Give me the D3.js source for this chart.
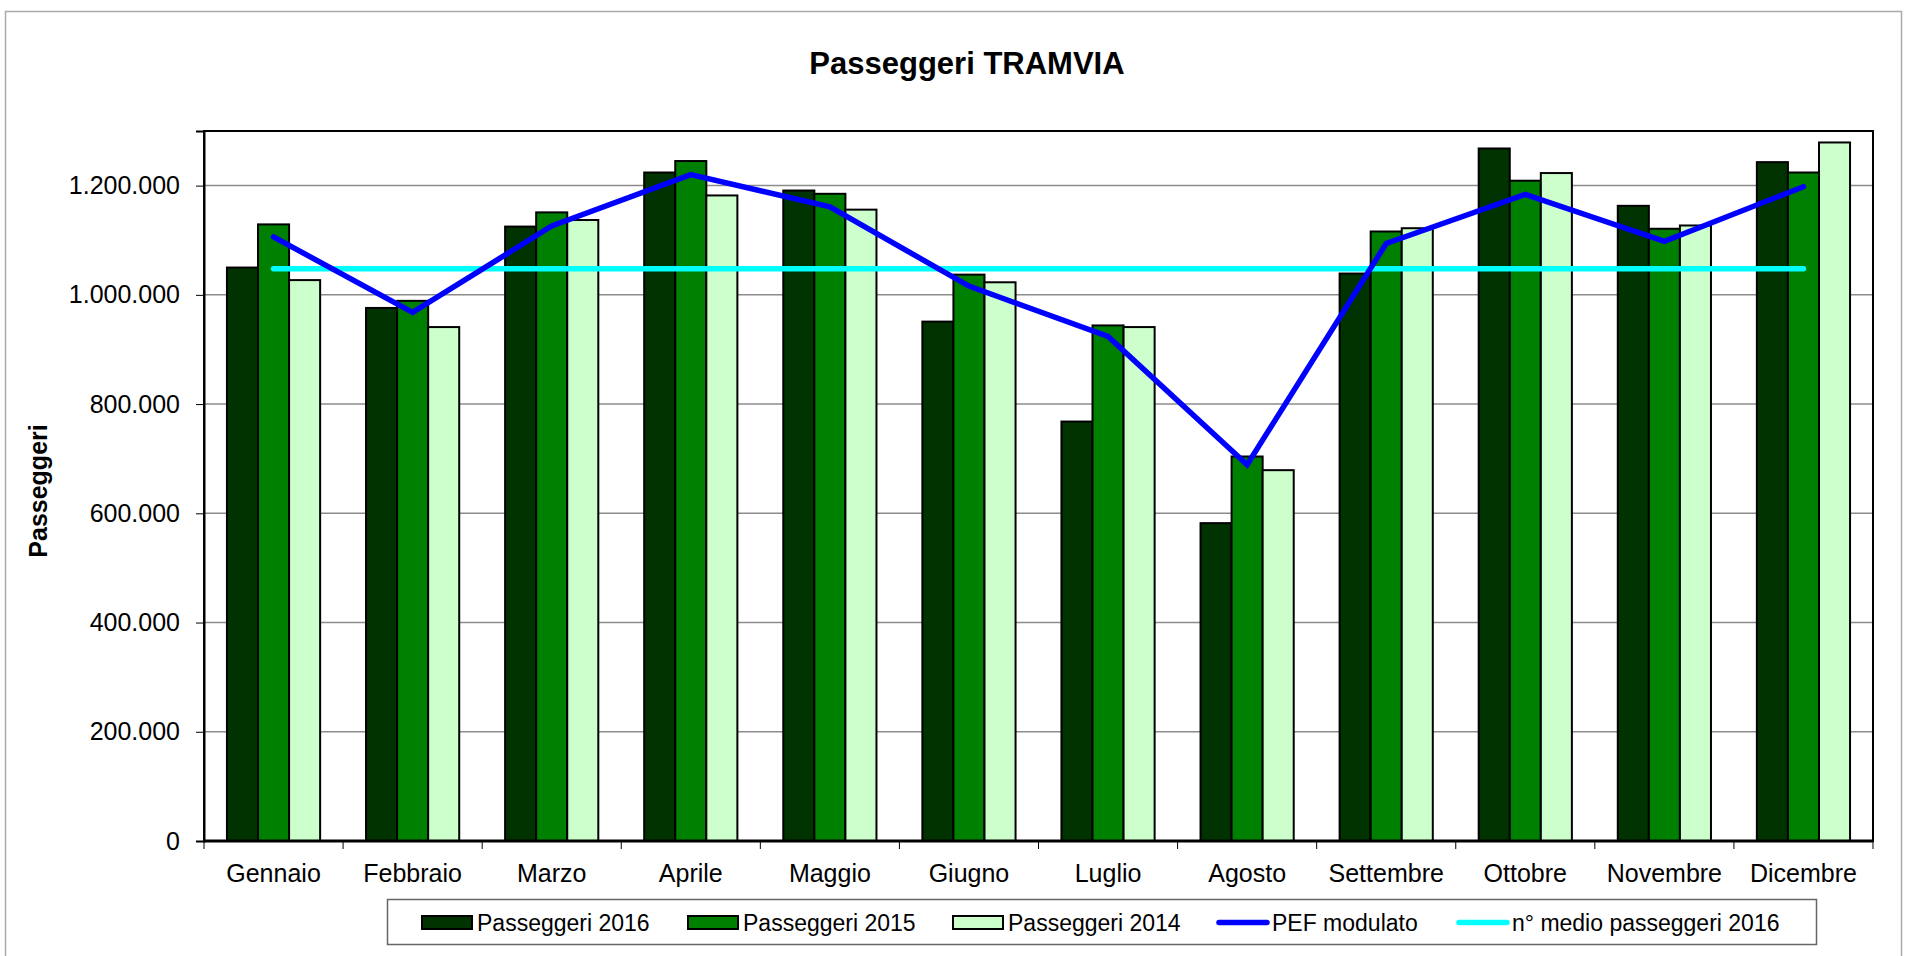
<!DOCTYPE html>
<html>
<head>
<meta charset="utf-8">
<script src="https://cdn.jsdelivr.net/npm/d3@7"></script>
<style>
  html, body { margin: 0; padding: 0; background: #fff; }
  svg { display: block; font-family: 'Liberation Sans', Arial, sans-serif; }
</style>
</head>
<body>
<svg id="chart" width="1907" height="956"></svg>
<script>
// Dati
const mesi = ['Gennaio', 'Febbraio', 'Marzo', 'Aprile', 'Maggio', 'Giugno',
  'Luglio', 'Agosto', 'Settembre', 'Ottobre', 'Novembre', 'Dicembre'];
const pass2016 = [1050000, 976000, 1125000, 1224000, 1191000, 951000, 768000, 582000, 1039000, 1268000, 1163000, 1243000];
const pass2015 = [1129000, 989000, 1151000, 1245000, 1185000, 1037000, 944000, 704000, 1116000, 1209000, 1121000, 1224000];
const pass2014 = [1027000, 941000, 1137000, 1182000, 1156000, 1023000, 941000, 679000, 1122000, 1223000, 1127000, 1279000];
const pefModulato = [1106000, 968000, 1126000, 1220000, 1161000, 1016000, 924000, 689000, 1094000, 1184000, 1098000, 1198000];
const medio2016 = [1048000, 1048000, 1048000, 1048000, 1048000, 1048000, 1048000, 1048000, 1048000, 1048000, 1048000, 1048000];
const yTicks = [0, 200000, 400000, 600000, 800000, 1000000, 1200000];

const barSeries = [
  { name: 'Passeggeri 2016', values: pass2016, color: '#003300' },
  { name: 'Passeggeri 2015', values: pass2015, color: '#008000' },
  { name: 'Passeggeri 2014', values: pass2014, color: '#ccffcc' }
];
const lineSeries = [
  { name: 'PEF modulato', values: pefModulato, color: '#0000ff' },
  { name: 'n° medio passeggeri 2016', values: medio2016, color: '#00ffff' }
];

const svg = d3.select('#chart');
const plot = { left: 204, right: 1873, top: 131, bottom: 841 };

const itLocale = d3.formatLocale({ decimal: ',', thousands: '.', grouping: [3], currency: ['', '€'] });
const fmt = itLocale.format(',d');

const x0 = d3.scaleBand()
  .domain(mesi)
  .range([plot.left, plot.right])
  .paddingInner(0.33)
  .paddingOuter(0.165);

const x1 = d3.scaleBand()
  .domain(barSeries.map(s => s.name))
  .range([0, x0.bandwidth()]);

const y = d3.scaleLinear()
  .domain([0, 1300000])
  .range([plot.bottom, plot.top]);

// bordo esterno
svg.append('rect')
  .attr('x', 5.5).attr('y', 11.5)
  .attr('width', 1896).attr('height', 1000)
  .attr('fill', 'none')
  .attr('stroke', '#aaa')
  .attr('stroke-width', 1.5);

// titolo
svg.append('text')
  .attr('x', 967).attr('y', 74)
  .attr('text-anchor', 'middle')
  .style('font-size', '31px')
  .style('font-weight', 'bold')
  .text('Passeggeri TRAMVIA');

// griglia
svg.append('g')
  .selectAll('line')
  .data(yTicks.filter(d => d > 0))
  .enter().append('line')
  .attr('x1', plot.left).attr('x2', plot.right)
  .attr('y1', d => y(d)).attr('y2', d => y(d))
  .attr('stroke', '#8c8c8c')
  .attr('stroke-width', 1.5);

// barre
const groups = svg.append('g')
  .selectAll('g')
  .data(mesi)
  .enter().append('g')
  .attr('transform', d => `translate(${x0(d)},0)`);

groups.selectAll('rect')
  .data((m, i) => barSeries.map(s => ({ name: s.name, color: s.color, value: s.values[i] })))
  .enter().append('rect')
  .attr('x', d => x1(d.name))
  .attr('y', d => y(d.value))
  .attr('width', x1.bandwidth())
  .attr('height', d => y(0) - y(d.value))
  .attr('fill', d => d.color)
  .attr('stroke', '#000')
  .attr('stroke-width', 2);

// linee
const line = d3.line()
  .x((d, i) => x0(mesi[i]) + x0.bandwidth() / 2)
  .y(d => y(d));

lineSeries.forEach(s => {
  svg.append('path')
    .datum(s.values)
    .attr('d', line)
    .attr('fill', 'none')
    .attr('stroke', s.color)
    .attr('stroke-width', 5.5)
    .attr('stroke-linecap', 'round')
    .attr('stroke-linejoin', 'miter');
});
// PEF sopra la linea media
svg.selectAll('path').filter(function (d) { return d === pefModulato; }).raise();

// bordo area grafico
svg.append('rect')
  .attr('x', plot.left).attr('y', plot.top)
  .attr('width', plot.right - plot.left)
  .attr('height', plot.bottom - plot.top)
  .attr('fill', 'none')
  .attr('stroke', '#000')
  .attr('stroke-width', 2);

// assi
const yAxis = d3.axisLeft(y)
  .tickValues(yTicks)
  .tickSize(8)
  .tickPadding(16)
  .tickFormat(fmt);

const gy = svg.append('g')
  .attr('transform', `translate(${plot.left},0)`)
  .call(yAxis);
gy.select('.domain').attr('stroke', '#000').attr('stroke-width', 2);
gy.selectAll('.tick line').attr('stroke', '#000').attr('stroke-width', 1);
gy.selectAll('.tick text').style('font-size', '25px').attr('fill', '#000');

const xTickScale = d3.scaleLinear()
  .domain([0, mesi.length])
  .range([plot.left, plot.right]);

svg.append('g')
  .selectAll('line')
  .data(d3.range(mesi.length + 1))
  .enter().append('line')
  .attr('x1', d => xTickScale(d)).attr('x2', d => xTickScale(d))
  .attr('y1', plot.bottom).attr('y2', plot.bottom + 8)
  .attr('stroke', '#000')
  .attr('stroke-width', 1);

svg.append('line')
  .attr('x1', plot.left).attr('x2', plot.right)
  .attr('y1', plot.bottom).attr('y2', plot.bottom)
  .attr('stroke', '#000')
  .attr('stroke-width', 3);

svg.append('g')
  .selectAll('text')
  .data(mesi)
  .enter().append('text')
  .attr('x', d => x0(d) + x0.bandwidth() / 2)
  .attr('y', 882)
  .attr('text-anchor', 'middle')
  .style('font-size', '25px')
  .text(d => d);

// titolo asse y
svg.append('text')
  .attr('transform', 'translate(47,491) rotate(-90)')
  .attr('text-anchor', 'middle')
  .style('font-size', '25px')
  .style('font-weight', 'bold')
  .text('Passeggeri');

// legenda
const legend = svg.append('g');
legend.append('rect')
  .attr('x', 387.5).attr('y', 899.5)
  .attr('width', 1429).attr('height', 45)
  .attr('fill', '#fff')
  .attr('stroke', '#666')
  .attr('stroke-width', 1.5);

const legendItems = [
  ...barSeries.map(s => ({ name: s.name, color: s.color, type: 'bar' })),
  ...lineSeries.map(s => ({ name: s.name, color: s.color, type: 'line' }))
];
const legendX = [422, 688, 953, 1217, 1457];

legendItems.forEach((it, i) => {
  const g = legend.append('g').attr('transform', `translate(${legendX[i]},0)`);
  if (it.type === 'bar') {
    g.append('rect')
      .attr('x', 0).attr('y', 916)
      .attr('width', 50).attr('height', 13)
      .attr('fill', it.color)
      .attr('stroke', '#000')
      .attr('stroke-width', 2);
  } else {
    g.append('line')
      .attr('x1', 2).attr('x2', 50)
      .attr('y1', 922.5).attr('y2', 922.5)
      .attr('stroke', it.color)
      .attr('stroke-width', 5.5)
      .attr('stroke-linecap', 'round');
  }
  g.append('text')
    .attr('x', 55).attr('y', 931)
    .style('font-size', '23px')
    .text(it.name);
});
</script>
</body>
</html>
